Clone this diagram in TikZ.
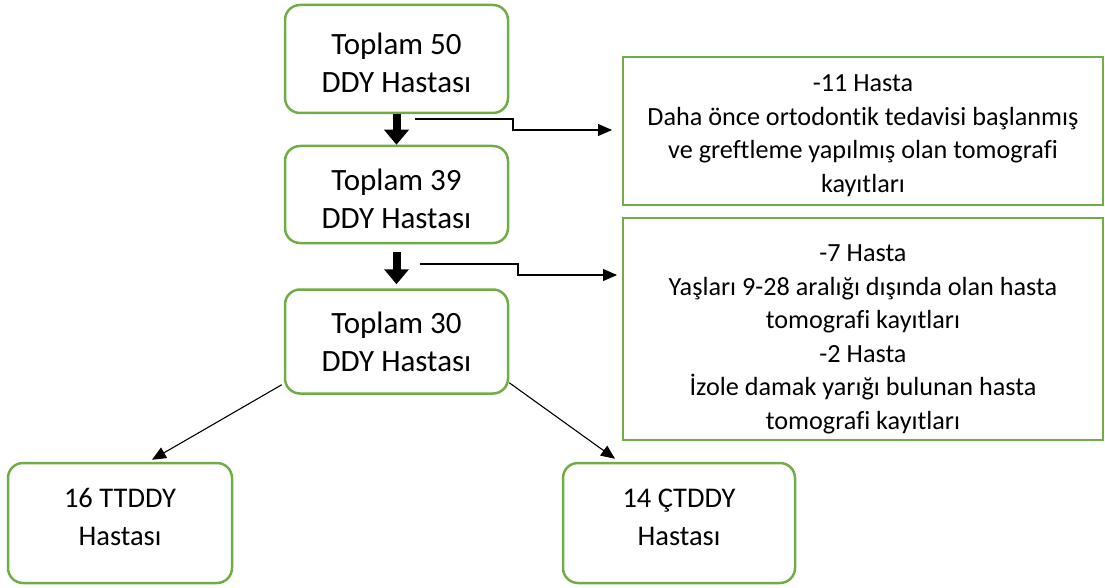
\documentclass[tikz,border=0pt]{standalone}
\usepackage{fontspec}
\setmainfont{Carlito}[Ligatures={NoCommon}]
\usetikzlibrary{arrows.meta,calc}
\definecolor{grn}{HTML}{70AD47}
\begin{document}
\begin{tikzpicture}[x=1pt,y=-1pt,
  rbox/.style={draw=grn,line width=2.5pt,rounded corners=15pt,align=center,
    font=\fontsize{31}{38}\selectfont,inner sep=0pt},
  lowbox/.style={rbox,font=\fontsize{28.5}{38}\selectfont},
  sbox/.style={draw=grn,line width=2.5pt,align=center,
    font=\fontsize{26.2}{33.5}\selectfont,inner sep=0pt},
  bigarrow/.style={line width=8pt,-{Triangle[width=24pt,length=15pt]}},
  thinarrow/.style={line width=1.1pt,-{Triangle[width=12pt,length=14pt]}}]
\useasboundingbox (0,0) rectangle (1105,588);
\node[rbox,minimum width=223pt,minimum height=108pt] (b50) at (396.5,59) {\rule{0pt}{30pt}Toplam 50\\DDY Hastası};
\node[rbox,minimum width=223pt,minimum height=97pt] (b39) at (396.5,194.5) {\rule{0pt}{30pt}Toplam 39\\DDY Hastası};
\node[rbox,minimum width=223pt,minimum height=104pt] (b30) at (396.5,341.5) {Toplam 30\\DDY Hastası};
\node[lowbox,minimum width=224pt,minimum height=120pt] (b16) at (120,523) {16 TTDDY\\Hastası\rule[-12pt]{0pt}{0pt}};
\node[lowbox,minimum width=232pt,minimum height=120pt] (b14) at (679,523) {14 ÇTDDY\\Hastası\rule[-12pt]{0pt}{0pt}};
\node[sbox,minimum width=480pt,minimum height=148pt] (r1) at (863,131)
  {\rule{0pt}{26pt}-11 Hasta\\Daha önce ortodontik tedavisi başlanmış\\ve greftleme yapılmış olan tomografi\\kayıtları};
\node[sbox,minimum width=480pt,minimum height=222pt] (r2) at (863,329)
  {\rule{0pt}{37pt}-7 Hasta\\Yaşları 9-28 aralığı dışında olan hasta\\tomografi kayıtları\\-2 Hasta\\İzole damak yarığı bulunan hasta\\tomografi kayıtları};
\draw[bigarrow] (b50.south) -- (b39.north);
\draw[bigarrow] ($(b39.south)+(0,8)$) -- ($(b30.north)+(0,-4)$);
\coordinate (s1) at (415,119);
\coordinate (t1) at (612,130);
\coordinate (s2) at (420,264);
\coordinate (t2) at (617,275);
\draw[thinarrow] (s1) -- (513,119) -- (513,130) -- (t1);
\draw[thinarrow] (s2) -- (518,264) -- (518,275) -- (t2);
\draw[thinarrow] (b30.south west) ++(-2,-10) coordinate (d1) (d1) -- ($(b16.north)+(32,-2)$);
\draw[thinarrow] (b30.south east) ++(0,-12) coordinate (d2) (d2) -- ($(b14.north)+(-64,-3)$);
\end{tikzpicture}
\end{document}
